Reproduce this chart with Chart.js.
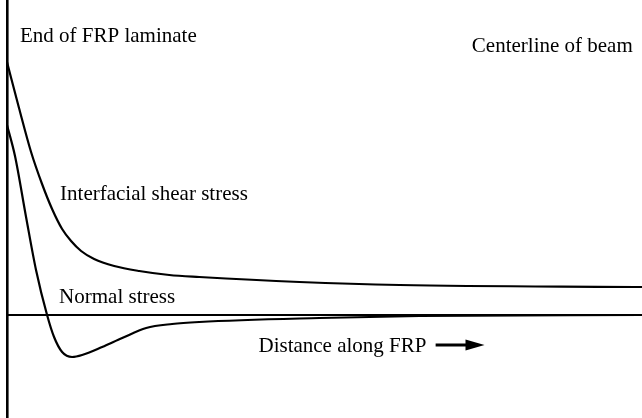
<!DOCTYPE html>
<html>
<head>
<meta charset="utf-8">
<script src="https://cdn.jsdelivr.net/npm/chart.js@4/dist/chart.umd.min.js"></script>
<style>
html,body{margin:0;padding:0;background:#fff;}
#wrap{width:642px;height:418px;position:relative;font-family:"Liberation Serif",serif;}
</style>
</head>
<body>
<div id="wrap"><canvas id="c"></canvas></div>
<script>
// Distance along FRP (0 = end of laminate, 100 = centerline of beam)
const shearDistance = [0, 1.89, 3.79, 5.52, 7.10, 8.68, 10.09, 11.67, 13.72, 16.88, 20.82, 25.55, 30.28, 46.06, 61.83, 100];
const shearStress   = [25.3, 20.7, 16.3, 13.1, 10.6, 8.6, 7.4, 6.4, 5.6, 4.9, 4.4, 4.0, 3.8, 3.3, 3.0, 2.8];

const normalDistance = [0, 1.26, 3.0, 4.57, 6.31, 7.41, 8.68, 10.25, 11.83, 14.98, 18.14, 21.92, 26.0, 30.3, 49.2, 65.0, 100];
const normalStress   = [19.0, 15.9, 9.8, 4.5, 0, -2.2, -3.7, -4.2, -4.0, -3.2, -2.3, -1.3, -0.9, -0.7, -0.3, -0.1, 0];

const labelTexts = ["End of FRP laminate", "Centerline of beam", "Interfacial shear stress", "Normal stress", "Distance along FRP"];
const labelX = [2.05, 73.2, 8.36, 8.2, 39.6];
const labelY = [27.3, 26.3, 11.5, 1.23, -3.67];

const FONT = '21px "Liberation Serif", "Times New Roman", Times, serif';
const toPoints = (xs, ys) => xs.map((x, i) => ({x: x, y: ys[i]}));

const textPlugin = {
  id: 'textPlugin',
  afterDraw(chart) {
    const {ctx, scales: {x, y}} = chart;
    ctx.save();
    ctx.fillStyle = '#000';
    ctx.font = FONT;
    ctx.textBaseline = 'alphabetic';
    ctx.textAlign = 'left';
    labelTexts.forEach((t, i) => {
      ctx.fillText(t, x.getPixelForValue(labelX[i]), y.getPixelForValue(labelY[i]));
    });
    // arrow after "Distance along FRP"
    const ax0 = x.getPixelForValue(67.5), ax1 = x.getPixelForValue(75.2), ay = y.getPixelForValue(-3.0);
    ctx.strokeStyle = '#000';
    ctx.lineWidth = 3;
    ctx.beginPath();
    ctx.moveTo(ax0, ay);
    ctx.lineTo(ax1 - 16, ay);
    ctx.stroke();
    ctx.beginPath();
    ctx.moveTo(ax1, ay);
    ctx.lineTo(ax1 - 19, ay - 5.5);
    ctx.lineTo(ax1 - 19, ay + 5.5);
    ctx.closePath();
    ctx.fill();
    ctx.restore();
  }
};

function build() {
  new Chart(document.getElementById('c'), {
    type: 'line',
    data: {
      datasets: [
        {label: 'Interfacial shear stress', data: toPoints(shearDistance, shearStress),
         borderColor: '#000', borderWidth: 2.2, pointRadius: 0, cubicInterpolationMode: 'monotone', fill: false},
        {label: 'Normal stress', data: toPoints(normalDistance, normalStress),
         borderColor: '#000', borderWidth: 2.2, pointRadius: 0, cubicInterpolationMode: 'monotone', fill: false}
      ]
    },
    options: {
      responsive: true,
      maintainAspectRatio: false,
      animation: false,
      layout: {padding: {left: 7, right: 0, top: 0, bottom: 0}},
      plugins: {legend: {display: false}, tooltip: {enabled: false}},
      scales: {
        x: {
          type: 'linear', min: 0, max: 100,
          ticks: {display: false, stepSize: 10},
          border: {display: false},
          grid: {drawTicks: false, color: c => c.tick && c.tick.value === 0 ? '#000' : 'rgba(0,0,0,0)', lineWidth: 2.6}
        },
        y: {
          type: 'linear', min: -10.3, max: 31.5,
          ticks: {display: false, stepSize: 5},
          border: {display: false},
          grid: {drawTicks: false, color: c => c.tick && c.tick.value === 0 ? '#000' : 'rgba(0,0,0,0)', lineWidth: 2}
        }
      }
    },
    plugins: [textPlugin]
  });
}

if (document.fonts && document.fonts.load) {
  document.fonts.load(FONT).then(build, build);
} else {
  build();
}
</script>
</body>
</html>
